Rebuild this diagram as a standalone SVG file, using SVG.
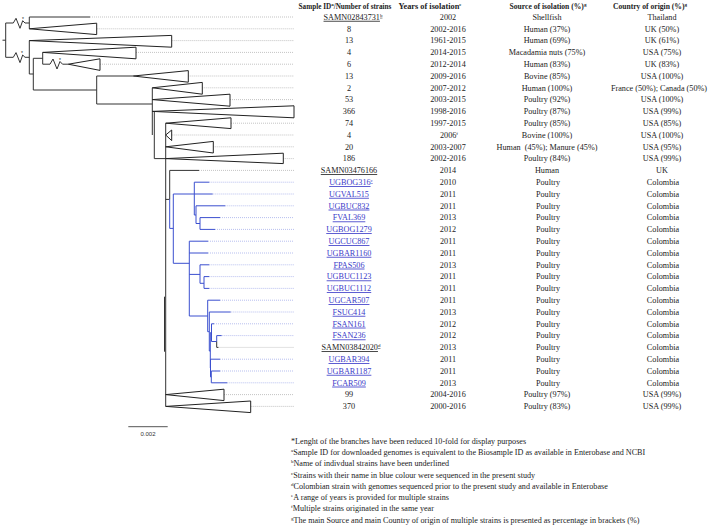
<svg xmlns="http://www.w3.org/2000/svg" width="713" height="526" viewBox="0 0 713 526">
<style>
.t{font-family:"Liberation Serif","Times New Roman",serif;font-size:8.2px;fill:#222;text-anchor:middle}
.h{font-weight:bold;font-size:7.6px}
.h1{font-size:7.2px}
.h2{font-size:8.3px}
.b{fill:#3a3ac8;text-decoration:underline}
.u{text-decoration:underline}
.f{text-anchor:start;font-size:8.15px}
.s{font-size:5px}
.br{stroke:#333;stroke-width:1;fill:none}
.bl{stroke:#3b4fcf;stroke-width:1;fill:none}
.tri{fill:#fff;stroke:#222;stroke-width:1}
.dot{stroke:#aaa;stroke-width:.7;stroke-dasharray:1 1;fill:none}
.dotb{stroke:#9aa4e8;stroke-width:.7;stroke-dasharray:1 1;fill:none}
.st{font-family:"Liberation Sans",Arial,sans-serif;font-size:5px;fill:#222;text-anchor:middle}
.sc{font-family:"Liberation Sans",Arial,sans-serif;font-size:6px;fill:#333;text-anchor:middle}
</style>
<g id="connectors">
<path class="br" d="M2.5,40.2H5.7M5.7,23V57.3"/>
<path class="br" d="M5.7,23H13.3L16,18.3L20,28.3L22.7,20.7L25,23H29.3"/>
<path class="br" d="M5.7,57.3H13.3L16,52.6L20,62.6L22.7,55L25,57.3H29.3"/>
<path class="br" d="M29.3,17V28.8M29.3,17H90"/>
<path class="br" d="M29.3,40.6V74M29.3,74H33.3M33.3,58.3V90M33.3,58.3H42.7M42.7,52.4V64.2"/>
<path class="br" d="M42.7,64.2H50L53,59L57,69L60,61.5L62.5,64.2H68.3"/>
<path class="br" d="M33.3,90H96.7M96.7,76V104M96.7,76H133.3M96.7,104H152.3"/>
<path class="br" d="M152.3,87.8V135M154.3,111.4V158.6M154.3,158.6H165.7"/>
<path class="br" d="M165.7,123.2V406.4M164.5,296.7V351.7"/>
<path class="br" d="M165.7,199.4H169.7M169.7,170.4V199.4M169.7,170.4H199"/>
<path class="bl" d="M169.7,199.4V228.4M169.7,228.4H173.3M173.3,194V263.3"/>
<path class="bl" d="M173.3,194H194.3M194.3,182.2V215M194.3,182.2H209.3M194.3,194H212.7M194.3,215H196M196,205.8V223.5M196,205.8H225.3M196,223.5H200M200,217.6V229.4M200,217.6H220M200,229.4H215"/>
<path class="bl" d="M173.3,263.3H189.3M189.3,241.2V316M189.3,241.2H208M189.3,253H208M189.3,274.4H200M200,264.8V283.3M200,264.8H209.3M200,283.3H204M204,276.6V288.4M204,276.6H209.3M204,288.4H209.3"/>
<path class="bl" d="M189.3,316H207.7M207.7,300.2V331.7M207.7,300.2H220M207.7,331.7H209.3M209.3,312V351M209.3,312H230.7"/>
<path class="bl" d="M209.3,351H210.3M210.3,332.7V368M210.3,332.7H211.5M211.5,323.8V341.5M211.5,323.8H214M211.5,341.5H216.7M216.7,335.6V341.5M216.7,335.6H221.7"/>
<path class="br" d="M216.7,341.5V347.4M216.7,347.4H218.5"/>
<path class="bl" d="M210.3,368H210.5M210.5,359.2V376.9M210.5,359.2H220M210.5,376.9H211.3M211.3,371V382.8M211.3,371H220M211.3,382.8H227.3"/>
<path class="dot" d="M90,17H294M96.7,28.8H294M171.7,40.6H294M136,52.4H294M100,64.2H294M188.3,76H294M202.3,87.8H294M230,99.6H294M231,123.2H294M171.7,135H294M213.3,146.8H294M283.3,158.6H294M199,170.4H294M218.5,347.4H294M224,394.6H294M250.7,406.4H294"/>
<path class="dotb" d="M209.3,182.2H294M212.7,194H294M225.3,205.8H294M220,217.6H294M215,229.4H294M208,241.2H294M208,253H294M209.3,264.8H294M209.3,276.6H294M209.3,288.4H294M220,300.2H294M230.7,312H294M214,323.8H294M221.7,335.6H294M220,359.2H294M220,371H294M227.3,382.8H294"/>
<path stroke="#555" stroke-width="1" d="M128.3,426.7H167.7"/>
</g>
<g id="clades">
<polygon class="tri" points="29.3,28.8 96.7,23.2 96.7,34.6"/>
<polygon class="tri" points="29.3,40.6 171.7,35.4 171.7,47.2"/>
<polygon class="tri" points="42.7,52.4 136,47.2 136,58.8"/>
<polygon class="tri" points="68.3,64.2 100,58.8 100,70.4"/>
<polygon class="tri" points="133.3,76 188.3,70.6 188.3,82.2"/>
<polygon class="tri" points="152.3,87.8 202.3,82.4 202.3,94.2"/>
<polygon class="tri" points="152.3,99.6 230,94.2 230,106.2"/>
<polygon class="tri" points="152.3,111.4 294,105.8 294,117.8"/>
<polygon class="tri" points="165.7,123.2 231,117.8 231,128.6"/>
<polygon class="tri" points="165.7,135 171.7,130 171.7,140.6"/>
<polygon class="tri" points="165.7,146.8 213.3,141.4 213.3,153"/>
<polygon class="tri" points="165.7,158.6 283.3,153.2 283.3,163.6"/>
<polygon class="tri" points="165.7,394.6 224,389.2 224,400.6"/>
<polygon class="tri" points="165.7,406.4 250.7,401 250.7,412.6"/>
<text class="st" x="23" y="21">*</text>
<text class="st" x="22" y="55.3">*</text>
<text class="st" x="60" y="62">*</text>
<text class="sc" x="148" y="435.5">0.002</text>
</g>
<g id="header">
<text class="t h h1" x="345" y="8.5">Sample ID<tspan class="s" dy="-2.5">a</tspan><tspan dy="2.5">/Number of strains</tspan></text>
<text class="t h h2" x="430" y="8.5">Years of isolation<tspan class="s" dy="-2.5">e</tspan></text>
<text class="t h" x="548" y="8.5">Source of isolation (%)<tspan class="s" dy="-2.5">g</tspan></text>
<text class="t h" x="650" y="8.5">Country of origin (%)<tspan class="s" dy="-2.5">g</tspan></text>
</g>
<g id="col-sample">
<text class="t u" x="353" y="19.8">SAMN02843731<tspan class="s" dy="-3">b</tspan></text>
<text class="t" x="349" y="31.6">8</text>
<text class="t" x="349" y="43.4">13</text>
<text class="t" x="349" y="55.2">4</text>
<text class="t" x="349" y="67">6</text>
<text class="t" x="349" y="78.8">13</text>
<text class="t" x="349" y="90.6">2</text>
<text class="t" x="349" y="102.4">53</text>
<text class="t" x="349" y="114.2">366</text>
<text class="t" x="349" y="126">74</text>
<text class="t" x="349" y="137.8">4</text>
<text class="t" x="349" y="149.6">20</text>
<text class="t" x="349" y="161.4">186</text>
<text class="t u" x="349" y="173.2">SAMN03476166</text>
<text class="t b" x="351" y="185">UGBOG316<tspan class="s" dy="-3">c</tspan></text>
<text class="t b" x="349" y="196.8">UGVAL515</text>
<text class="t b" x="349" y="208.6">UGBUC832</text>
<text class="t b" x="349" y="220.4">FVAL369</text>
<text class="t b" x="349" y="232.2">UGBOG1279</text>
<text class="t b" x="349" y="244">UGCUC867</text>
<text class="t b" x="349" y="255.8">UGBAR1160</text>
<text class="t b" x="349" y="267.6">FPAS506</text>
<text class="t b" x="349" y="279.4">UGBUC1123</text>
<text class="t b" x="349" y="291.2">UGBUC1112</text>
<text class="t b" x="349" y="303">UGCAR507</text>
<text class="t b" x="349" y="314.8">FSUC414</text>
<text class="t b" x="349" y="326.6">FSAN161</text>
<text class="t b" x="349" y="338.4">FSAN236</text>
<text class="t u" x="351" y="350.2">SAMN03842020<tspan class="s" dy="-3">d</tspan></text>
<text class="t b" x="349" y="362">UGBAR394</text>
<text class="t b" x="349" y="373.8">UGBAR1187</text>
<text class="t b" x="349" y="385.6">FCAR509</text>
<text class="t" x="349" y="397.4">99</text>
<text class="t" x="349" y="409.2">370</text>
</g>
<g id="col-years">
<text class="t" x="448" y="19.8">2002</text>
<text class="t" x="448" y="31.6">2002-2016</text>
<text class="t" x="448" y="43.4">1961-2015</text>
<text class="t" x="448" y="55.2">2014-2015</text>
<text class="t" x="448" y="67">2012-2014</text>
<text class="t" x="448" y="78.8">2009-2016</text>
<text class="t" x="448" y="90.6">2007-2012</text>
<text class="t" x="448" y="102.4">2003-2015</text>
<text class="t" x="448" y="114.2">1998-2016</text>
<text class="t" x="448" y="126">1997-2015</text>
<text class="t" x="449" y="137.8">2006<tspan class="s" dy="-3">f</tspan></text>
<text class="t" x="448" y="149.6">2003-2007</text>
<text class="t" x="448" y="161.4">2002-2016</text>
<text class="t" x="448" y="173.2">2014</text>
<text class="t" x="448" y="185">2010</text>
<text class="t" x="448" y="196.8">2011</text>
<text class="t" x="448" y="208.6">2011</text>
<text class="t" x="448" y="220.4">2013</text>
<text class="t" x="448" y="232.2">2012</text>
<text class="t" x="448" y="244">2011</text>
<text class="t" x="448" y="255.8">2011</text>
<text class="t" x="448" y="267.6">2013</text>
<text class="t" x="448" y="279.4">2011</text>
<text class="t" x="448" y="291.2">2011</text>
<text class="t" x="448" y="303">2011</text>
<text class="t" x="448" y="314.8">2013</text>
<text class="t" x="448" y="326.6">2012</text>
<text class="t" x="448" y="338.4">2012</text>
<text class="t" x="448" y="350.2">2013</text>
<text class="t" x="448" y="362">2011</text>
<text class="t" x="448" y="373.8">2011</text>
<text class="t" x="448" y="385.6">2013</text>
<text class="t" x="448" y="397.4">2004-2016</text>
<text class="t" x="448" y="409.2">2000-2016</text>
</g>
<g id="col-source">
<text class="t" x="547" y="19.8">Shellfish</text>
<text class="t" x="547" y="31.6">Human (37%)</text>
<text class="t" x="547" y="43.4">Human (69%)</text>
<text class="t" x="547" y="55.2">Macadamia nuts (75%)</text>
<text class="t" x="547" y="67">Human (83%)</text>
<text class="t" x="547" y="78.8">Bovine (85%)</text>
<text class="t" x="547" y="90.6">Human (100%)</text>
<text class="t" x="547" y="102.4">Poultry (92%)</text>
<text class="t" x="547" y="114.2">Poultry (87%)</text>
<text class="t" x="547" y="126">Poultry (85%)</text>
<text class="t" x="547" y="137.8">Bovine (100%)</text>
<text class="t" x="547" y="149.6" xml:space="preserve">Human  (45%); Manure (45%)</text>
<text class="t" x="547" y="161.4">Poultry (84%)</text>
<text class="t" x="547" y="173.2">Human</text>
<text class="t" x="548" y="185">Poultry</text>
<text class="t" x="548" y="196.8">Poultry</text>
<text class="t" x="548" y="208.6">Poultry</text>
<text class="t" x="548" y="220.4">Poultry</text>
<text class="t" x="548" y="232.2">Poultry</text>
<text class="t" x="548" y="244">Poultry</text>
<text class="t" x="548" y="255.8">Poultry</text>
<text class="t" x="548" y="267.6">Poultry</text>
<text class="t" x="548" y="279.4">Poultry</text>
<text class="t" x="548" y="291.2">Poultry</text>
<text class="t" x="548" y="303">Poultry</text>
<text class="t" x="548" y="314.8">Poultry</text>
<text class="t" x="548" y="326.6">Poultry</text>
<text class="t" x="548" y="338.4">Poultry</text>
<text class="t" x="548" y="350.2">Poultry</text>
<text class="t" x="548" y="362">Poultry</text>
<text class="t" x="548" y="373.8">Poultry</text>
<text class="t" x="548" y="385.6">Poultry</text>
<text class="t" x="547" y="397.4">Poultry (97%)</text>
<text class="t" x="547" y="409.2">Poultry (83%)</text>
</g>
<g id="col-country">
<text class="t" x="662" y="19.8">Thailand</text>
<text class="t" x="662" y="31.6">UK (50%)</text>
<text class="t" x="662" y="43.4">UK (61%)</text>
<text class="t" x="662" y="55.2">USA (75%)</text>
<text class="t" x="662" y="67">UK (83%)</text>
<text class="t" x="662" y="78.8">USA (100%)</text>
<text class="t" x="659" y="90.6">France (50%); Canada (50%)</text>
<text class="t" x="662" y="102.4">USA (100%)</text>
<text class="t" x="662" y="114.2">USA (99%)</text>
<text class="t" x="662" y="126">USA (85%)</text>
<text class="t" x="662" y="137.8">USA (100%)</text>
<text class="t" x="662" y="149.6">USA (95%)</text>
<text class="t" x="662" y="161.4">USA (99%)</text>
<text class="t" x="662" y="173.2">UK</text>
<text class="t" x="663" y="185">Colombia</text>
<text class="t" x="663" y="196.8">Colombia</text>
<text class="t" x="663" y="208.6">Colombia</text>
<text class="t" x="663" y="220.4">Colombia</text>
<text class="t" x="663" y="232.2">Colombia</text>
<text class="t" x="663" y="244">Colombia</text>
<text class="t" x="663" y="255.8">Colombia</text>
<text class="t" x="663" y="267.6">Colombia</text>
<text class="t" x="663" y="279.4">Colombia</text>
<text class="t" x="663" y="291.2">Colombia</text>
<text class="t" x="663" y="303">Colombia</text>
<text class="t" x="663" y="314.8">Colombia</text>
<text class="t" x="663" y="326.6">Colombia</text>
<text class="t" x="663" y="338.4">Colombia</text>
<text class="t" x="663" y="350.2">Colombia</text>
<text class="t" x="663" y="362">Colombia</text>
<text class="t" x="663" y="373.8">Colombia</text>
<text class="t" x="663" y="385.6">Colombia</text>
<text class="t" x="662" y="397.4">USA (99%)</text>
<text class="t" x="662" y="409.2">USA (99%)</text>
</g>
<g id="footnotes">
<text class="t f" x="291" y="443.6">*Lenght of the branches have been reduced 10-fold for display purposes</text>
<text class="t f" x="291" y="454.9"><tspan class="s" dy="-3">a</tspan><tspan dy="3">Sample ID for downloaded genomes is equivalent to the Biosample ID as available in Enterobase and NCBI</tspan></text>
<text class="t f" x="291" y="466.2"><tspan class="s" dy="-3">b</tspan><tspan dy="3">Name of indivdual strains have been underlined</tspan></text>
<text class="t f" x="291" y="477.5"><tspan class="s" dy="-3">c</tspan><tspan dy="3">Strains with their name in blue colour were sequenced in the present study</tspan></text>
<text class="t f" x="291" y="488.8"><tspan class="s" dy="-3">d</tspan><tspan dy="3">Colombian strain with genomes sequenced prior to the present study and available in Enterobase</tspan></text>
<text class="t f" x="291" y="500.1"><tspan class="s" dy="-3">e</tspan><tspan dy="3">A range of years is provided for multiple strains</tspan></text>
<text class="t f" x="291" y="511.4"><tspan class="s" dy="-3">f</tspan><tspan dy="3">Multiple strains originated in the same year</tspan></text>
<text class="t f" x="291" y="522.7"><tspan class="s" dy="-3">g</tspan><tspan dy="3">The main Source and main Country of origin of multiple strains is presented as percentage in brackets (%)</tspan></text>
</g>
</svg>
